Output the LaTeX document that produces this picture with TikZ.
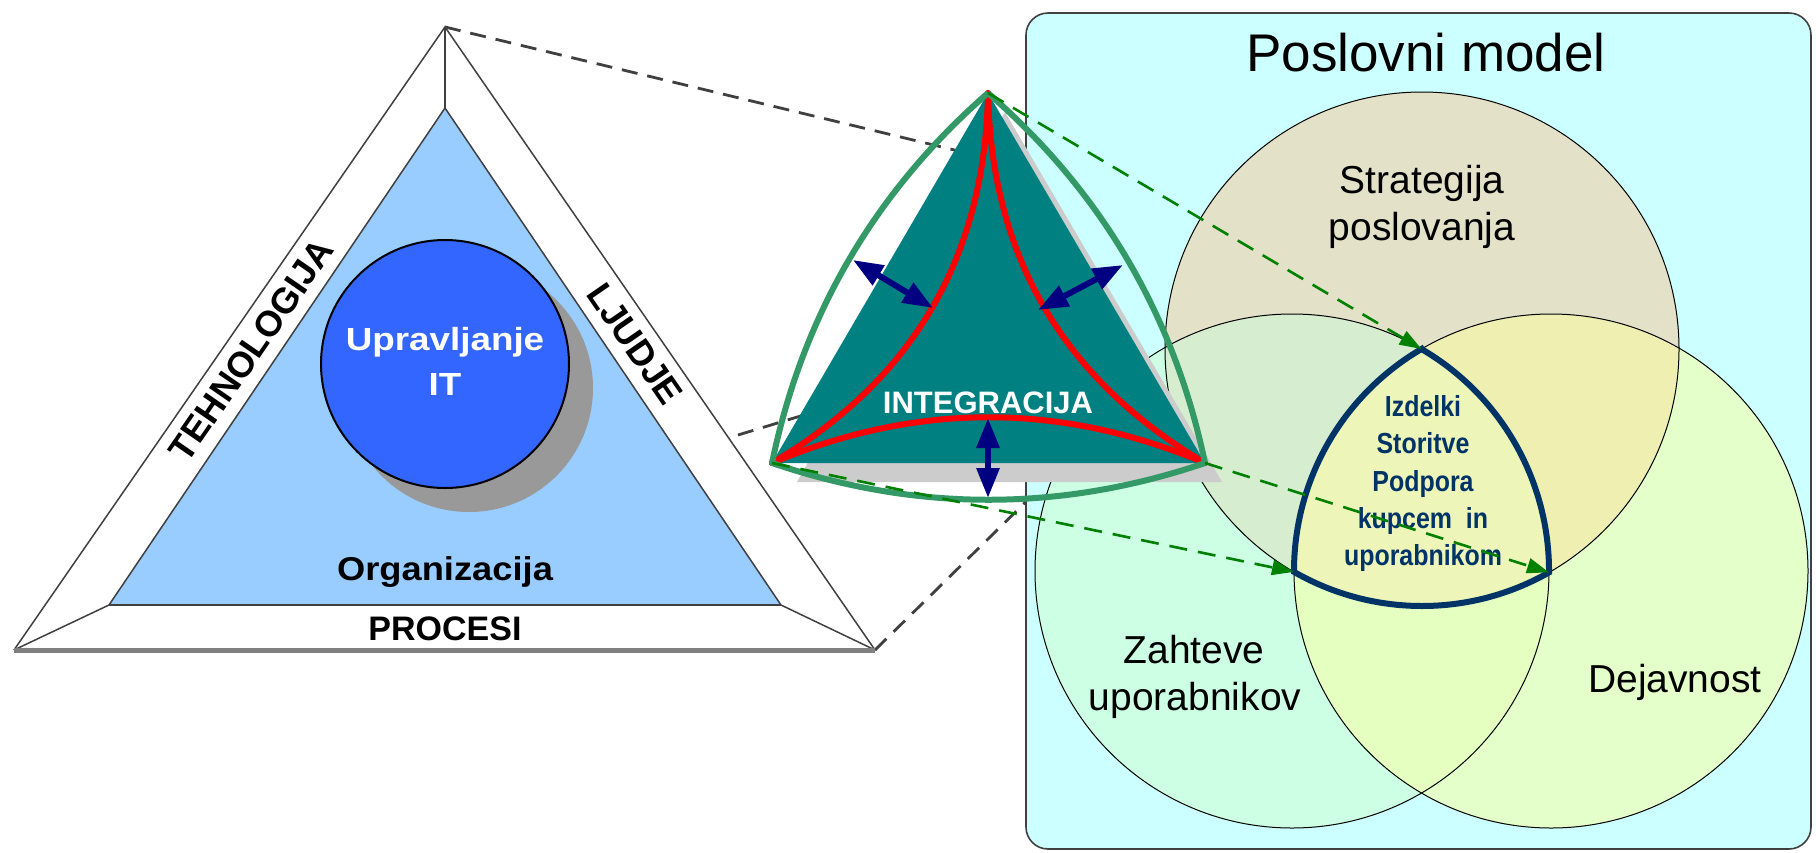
\documentclass[tikz,border=0pt]{standalone}
\usepackage{fontspec}
\usepackage{graphicx}
\setmainfont{Liberation Sans}
\usetikzlibrary{arrows.meta}

\definecolor{lightblue}{HTML}{99CCFF}
\definecolor{circblue}{HTML}{3366FF}
\definecolor{shadowgray}{HTML}{999999}
\definecolor{tealc}{HTML}{008080}
\definecolor{shadetri}{HTML}{CCCCCC}
\definecolor{seagreen}{HTML}{339966}
\definecolor{navyc}{HTML}{000080}
\definecolor{panelcyan}{HTML}{CCFFFF}
\definecolor{darknavy}{HTML}{003366}
\definecolor{dgreen}{HTML}{008000}
\definecolor{tridark}{HTML}{404040}
\definecolor{bargray}{HTML}{808080}
\definecolor{cT}{RGB}{227,226,201}
\definecolor{cL}{RGB}{204,255,228}
\definecolor{cR}{RGB}{228,255,202}
\definecolor{cTL}{RGB}{215,237,208}
\definecolor{cTR}{RGB}{240,239,178}
\definecolor{cLR}{RGB}{228,255,192}
\definecolor{cTLR}{RGB}{237,245,185}

\tikzset{
  triline/.style={draw=tridark, line width=0.75pt},
  projline/.style={draw=tridark, line width=1.4pt, dash pattern=on 8pt off 5pt},
  panelbox/.style={fill=panelcyan, draw=tridark, line width=0.8pt, rounded corners=11pt},
  vennline/.style={draw=black, line width=0.5pt},
  greenframe/.style={draw=seagreen, line width=3pt, line join=round},
  redline/.style={draw=red, line width=3pt, line cap=round},
  navyarrow/.style={draw=navyc, line width=3pt, {Triangle[length=15pt,width=11pt]}-{Triangle[length=15pt,width=11pt]}},
  greenarrow/.style={draw=dgreen, line width=1.3pt, dash pattern=on 9pt off 5.5pt, -{Triangle[length=11pt,width=7.5pt]}},
  venntxt/.style={anchor=base, font=\fontsize{19.5}{24}\selectfont},
  boldlbl/.style={font=\bfseries\fontsize{18}{21}\selectfont},
  inntxt/.style={anchor=base, text=darknavy, font=\bfseries\fontsize{14.5}{18}\selectfont},
}

\begin{document}
\begin{tikzpicture}[x=0.5pt,y=-0.5pt]
\useasboundingbox (0,0) rectangle (1816,852);
\fill[white] (0,0) rectangle (1816,852);

% key points
\coordinate (oA) at (445,27);
\coordinate (oB) at (14,650);
\coordinate (oC) at (875,650);
\coordinate (iA) at (445,108);
\coordinate (iB) at (109,605);
\coordinate (iC) at (781,605);
\coordinate (A) at (988,93);
\coordinate (B) at (772,463);
\coordinate (C) at (1205,463);
\coordinate (P) at (1421.5,349);
\coordinate (Q) at (1294,571.9);
\coordinate (R) at (1549,572.4);
\coordinate (d2s) at (738,435);
\coordinate (d1e) at (1000,161);
\coordinate (d2e) at (850,401);
\coordinate (d3e) at (1045,483);

% projection lines
\draw[projline] (oA) -- (d1e);
\draw[projline] (d2s) -- (d2e);
\draw[projline] (oC) -- (d3e);

% right panel
\draw[panelbox] (1026,13) rectangle (1811,849);

% Venn fills
\fill[cT] (1422,349) circle[radius=257];
\fill[cL] (1292,571) circle[radius=257];
\fill[cR] (1551,571) circle[radius=257];
\begin{scope}
  \clip (1292,571) circle[radius=257];
  \fill[cLR] (1551,571) circle[radius=257];
\end{scope}
\begin{scope}
  \clip (1422,349) circle[radius=257];
  \fill[cTL] (1292,571) circle[radius=257];
  \fill[cTR] (1551,571) circle[radius=257];
  \clip (1292,571) circle[radius=257];
  \fill[cTLR] (1551,571) circle[radius=257];
\end{scope}
\draw[vennline] (1422,349) circle[radius=257];
\draw[vennline] (1292,571) circle[radius=257];
\draw[vennline] (1551,571) circle[radius=257];

% left triangle
\fill[lightblue] (iA) -- (iB) -- (iC) -- cycle;
\draw[triline] (oB) -- (oA) -- (oC);
\draw[triline] (iB) -- (iA) -- (iC);
\draw[triline] (oA) -- (iA);
\draw[triline] (oB) -- (iB);
\draw[triline] (oC) -- (iC);
\draw[draw=bargray, line width=2.5pt] (oB) -- (oC);
\draw[draw=tridark, line width=1.2pt] (iB) -- (iC);

\fill[shadowgray] (469,388) circle[radius=124];
\draw[fill=circblue, draw=black, line width=1pt] (445,364) circle[radius=124];

\node[boldlbl, rotate=55.4] (tech) at (251,350) {TEHNOLOGIJA};
\node[boldlbl, rotate=-55.4] (ljud) at (635,344) {LJUDJE};
\node[anchor=base, font=\bfseries\fontsize{17}{20}\selectfont] (proc) at (445,640) {PROCESI};
\node[anchor=base, font=\bfseries\fontsize{16.5}{20}\selectfont] (org) at (445,580) {\scalebox{1.1}[1]{Organizacija}};
\node[anchor=base, text=white, font=\bfseries\fontsize{16}{20}\selectfont] (upr) at (445,350) {\scalebox{1.15}[1]{Upravljanje}};
\node[anchor=base, text=white, font=\bfseries\fontsize{16}{20}\selectfont] (uit) at (445,395) {\scalebox{1.15}[1]{IT}};

% middle figure
\fill[shadetri] (1005,112) -- (797,482) -- (1222,482) -- cycle;
\fill[tealc] (A) -- (B) -- (C) -- cycle;
\node[anchor=base, text=white, font=\bfseries\fontsize{15.5}{18}\selectfont] (integ) at (988,413) {INTEGRACIJA};
\draw[redline] (A) .. controls (985.1,256.6) and (913.1,380) .. (B);
\draw[redline] (A) .. controls (991.2,256.6) and (1063.6,380) .. (C);
\draw[redline] (B) .. controls (916.3,402) and (1060.7,402) .. (C);
\draw[greenframe] (A) .. controls (874.5,192.1) and (802.5,315.5) .. (B)
   .. controls (916.3,512) and (1060.7,512) .. (C)
   .. controls (1174.2,315.5) and (1101.8,192.1) .. (A);

\coordinate (la1) at (853,260);
\coordinate (la2) at (933,308);
\coordinate (ra1) at (1038,310);
\coordinate (ra2) at (1123,265);
\coordinate (ba1) at (988,418);
\coordinate (ba2) at (988,498);
\draw[navyarrow] (la1) -- (la2);
\draw[navyarrow] (ra1) -- (ra2);
\draw[navyarrow] (ba1) -- (ba2);

% Venn labels
\node[anchor=base, font=\fontsize{26.5}{30}\selectfont] (title) at (1426,71) {Poslovni model};
\node[venntxt] (str1) at (1422,193) {Strategija};
\node[venntxt] (str2) at (1422,240) {poslovanja};
\node[venntxt] (zah1) at (1194,663) {Zahteve};
\node[venntxt] (zah2) at (1195,710) {uporabnikov};
\node[venntxt] (dej) at (1675,692) {Dejavnost};

% central region outline (arcs of the three circles)
\draw[draw=darknavy, line width=3pt, line join=miter]
  (P) arc[start angle=-120.26, end angle=-180.2, radius=257]
      arc[start angle=119.87, end angle=60.38, radius=257]
      arc[start angle=0.31, end angle=-59.74, radius=257] -- cycle;
\node[inntxt] (i1) at (1423,416) {\scalebox{0.86}[1]{Izdelki}};
\node[inntxt] (i2) at (1423,453) {\scalebox{0.86}[1]{Storitve}};
\node[inntxt] (i3) at (1423,491) {\scalebox{0.86}[1]{Podpora}};
\node[inntxt] (i4) at (1423,528) {\scalebox{0.86}[1]{kupcem~ in}};
\node[inntxt] (i5) at (1423,565) {\scalebox{0.86}[1]{uporabnikom}};

% green dashed arrows
\draw[greenarrow] (A) -- (P);
\draw[greenarrow] (C) -- (R);
\draw[greenarrow] (B) -- (Q);
\end{tikzpicture}
\end{document}
